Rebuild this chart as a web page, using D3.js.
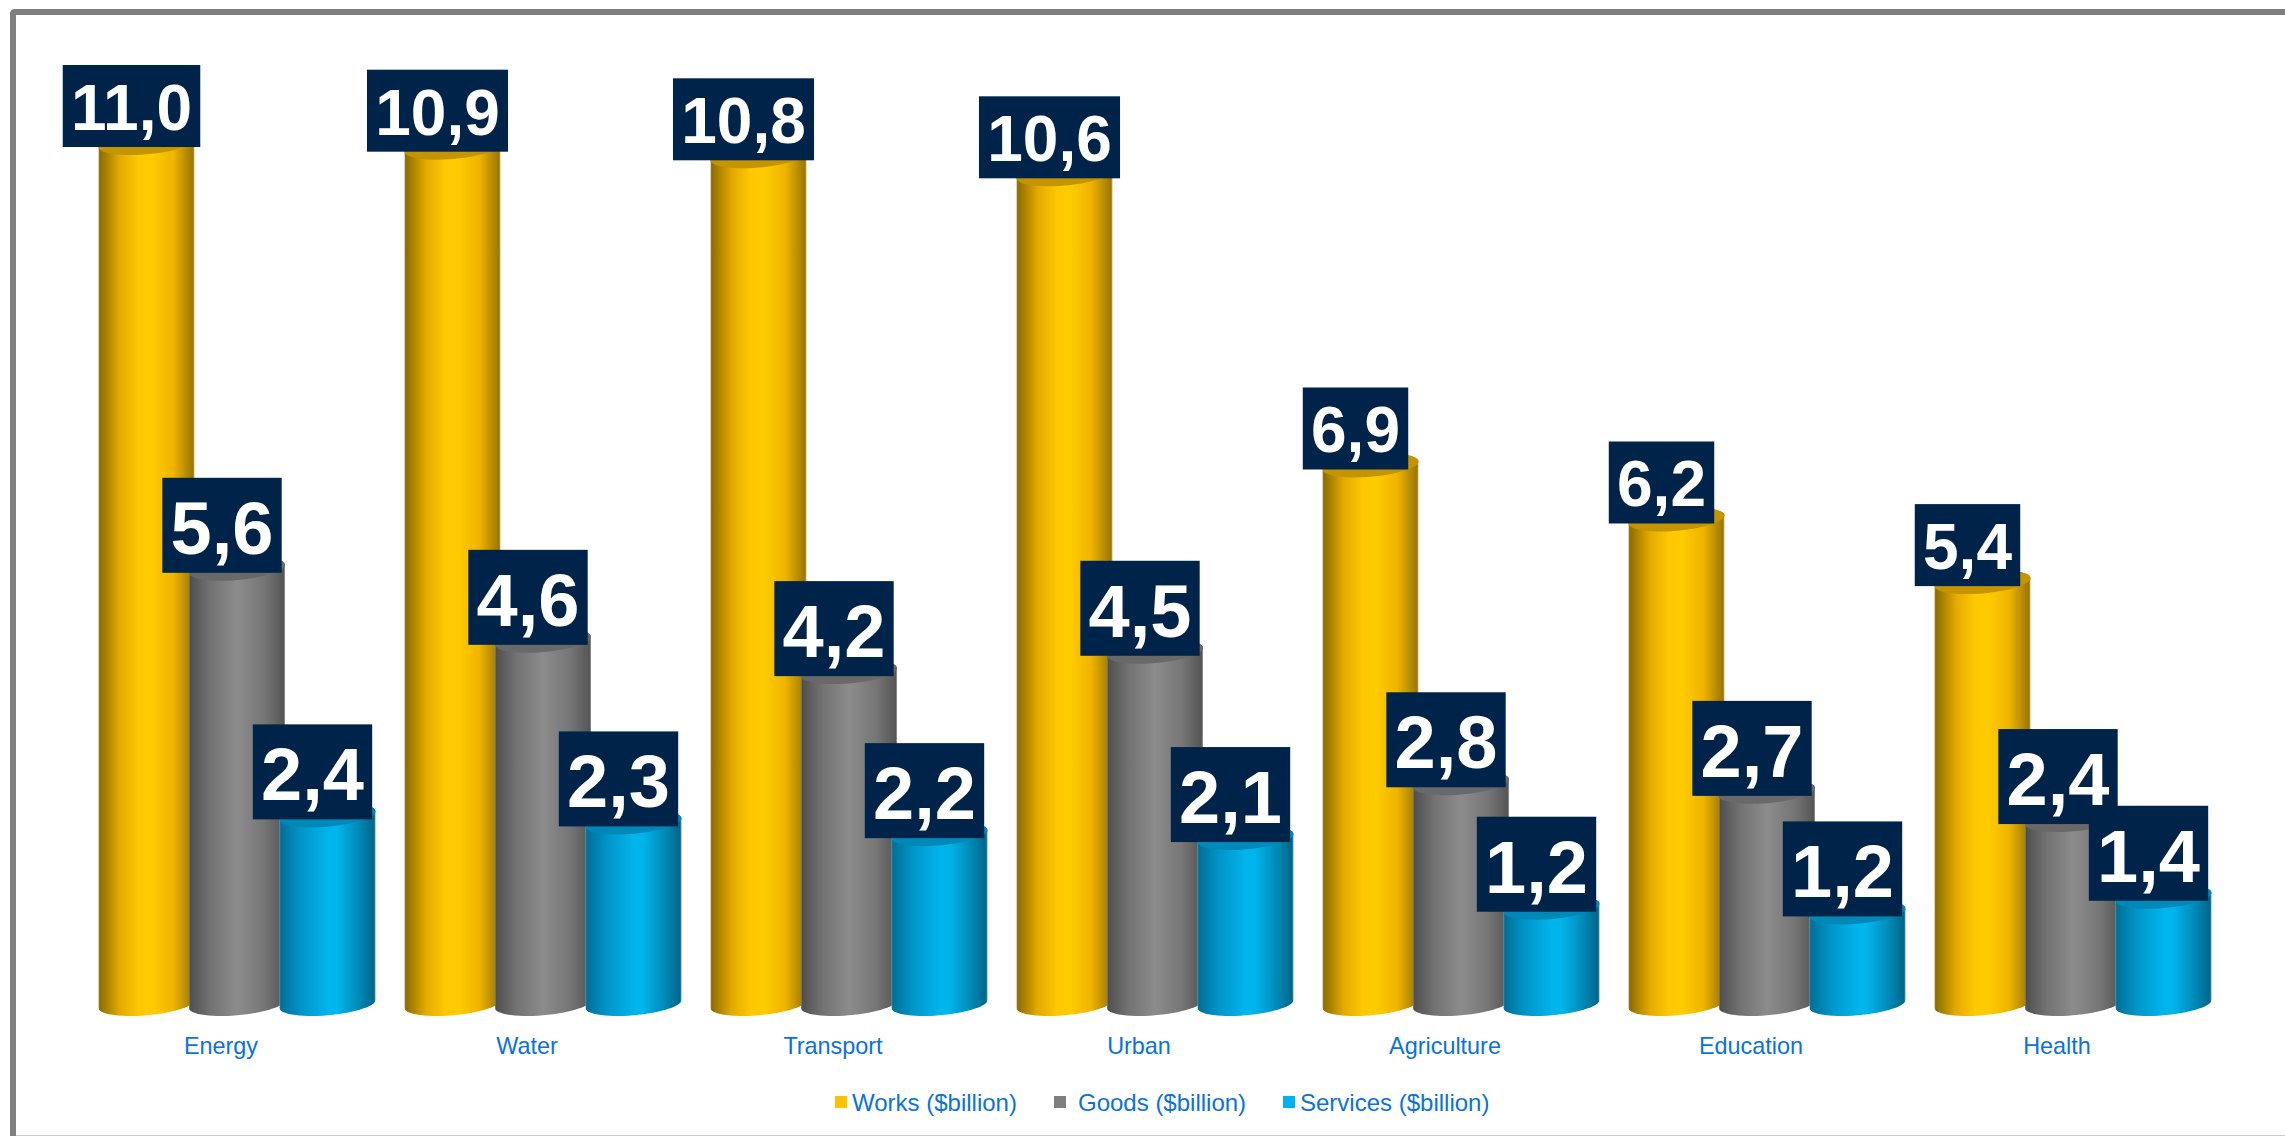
<!DOCTYPE html>
<html>
<head>
<meta charset="utf-8">
<script src="https://cdn.jsdelivr.net/npm/d3@7"></script>
<style>
html,body{margin:0;padding:0;background:#fff;overflow:hidden}
text{font-family:"Liberation Sans",Arial,sans-serif}
</style>
</head>
<body>
<svg id="chart" width="2285" height="1136" style="display:block"></svg>
<script>
const categories = ["Energy","Water","Transport","Urban","Agriculture","Education","Health"];
const seriesNames = ["Works ($billion)","Goods ($billion)","Services ($billion)"];
const works    = [11.00,10.94,10.83,10.60,6.88,6.19,5.39];
const goods    = [5.56,4.64,4.24,4.50,2.82,2.71,2.35];
const services = [2.41,2.32,2.17,2.12,1.23,1.17,1.37];
const seriesValues = [works,goods,services];

const swatch = ["#ffc000","#7f7f7f","#00b0f0"];
const capFill = ["#c49500","#696969","#0089b8"];
const ramps = [
  [[0,"#b9a878"],[0.012,"#8c6d00"],[0.22,"#e3aa00"],[0.42,"#ffc800"],[0.55,"#ffcc00"],[0.78,"#efb400"],[0.985,"#9a7700"],[1,"#c9bb92"]],
  [[0,"#8a8a8a"],[0.012,"#505050"],[0.22,"#727272"],[0.5,"#8c8c8c"],[0.78,"#767676"],[0.985,"#565656"],[1,"#a0a0a0"]],
  [[0,"#5aa7c2"],[0.012,"#006f98"],[0.22,"#0095c8"],[0.5,"#00b4ec"],[0.6,"#00b4ec"],[0.8,"#008fbe"],[0.985,"#00668a"],[1,"#66a8c0"]]
];

const svg = d3.select("#chart");
const defs = svg.append("defs");
ramps.forEach((r,i)=>{
  const g = defs.append("linearGradient").attr("id","side"+i);
  g.selectAll("stop").data(r).join("stop").attr("offset",d=>d[0]).attr("stop-color",d=>d[1]);
});

// frame
svg.append("line").attr("x1",16).attr("x2",2285).attr("y1",1135.5).attr("y2",1135.5).attr("stroke","#cccccc").attr("stroke-width",1);
svg.append("path").attr("d","M13,1140 V14 Q13,12 15,12 H2290").attr("fill","none").attr("stroke","#7f7f7f").attr("stroke-width",6);

const x = d3.scaleBand().domain(categories).range([69.5,69.5+7*306]);
const inner = d3.scalePoint().domain([0,1,2]).range([-91,90]);
const y = d3.scaleLinear().domain([0,11]).range([1008,147]);

const depth = 15, rx = 48, ry = 11.3, skew = 4, lift = 4;
const angles = d3.range(0,361,6).map(d=>d*Math.PI/180);
const px = (cx,t)=>cx+rx*Math.cos(t);
const py = (cy,t)=>cy+ry*Math.sin(t)-skew*Math.cos(t);
const line = d3.line();
function sidePath(cx,top,bot){
  const lower = angles.filter(t=>t<=Math.PI+1e-6);
  const upper = angles.filter(t=>t>=Math.PI-1e-6);
  const pts = lower.map(t=>[px(cx,t),py(bot,t)]).concat(upper.map(t=>[px(cx,t),py(top,t)]));
  return line(pts)+"Z";
}
function capPath(cx,top){ return line(angles.map(t=>[px(cx,t),py(top,t)]))+"Z"; }

const marks = [];
seriesValues.forEach((vals,s)=>vals.forEach((v,c)=>marks.push({s,c,v})));
const center = d=>x(categories[d.c])+x.bandwidth()/2+inner(d.s);

const bars = svg.append("g").selectAll("g").data(marks).join("g");
bars.append("path").attr("d",d=>sidePath(center(d)+depth,y(d.v)-lift,y(0)-lift)).attr("fill",d=>`url(#side${d.s})`);
bars.append("path").attr("d",d=>capPath(center(d)+depth,y(d.v)-lift)).attr("fill",d=>capFill[d.s]);

// category labels
svg.append("g").selectAll("text").data(categories).join("text")
  .attr("x",d=>x(d)+x.bandwidth()/2-1.5).attr("y",1054).attr("text-anchor","middle")
  .attr("font-size",23.4).attr("fill","#0a72dd").text(d=>d);

// data labels
const fmt = v=>v.toFixed(1).replace(".",",");
const labels = svg.append("g").selectAll("g").data(marks).join("g");
labels.each(function(d){
  const g = d3.select(this), t = fmt(d.v), big = d.s>0;
  const fs = big?74:64, h = big?95:82, base = big?19:17;
  const txt = g.append("text").attr("x",center(d)).attr("y",y(d.v)-base)
    .attr("text-anchor","middle").attr("font-size",fs).attr("font-weight","bold").attr("fill","#fff").text(t);
  const w = txt.node().getComputedTextLength() + 16.5;
  g.insert("rect","text").attr("x",center(d)-w/2).attr("y",y(d.v)-h).attr("width",w).attr("height",h).attr("fill","#002349");
});

// legend
const swatchX = [835,1054,1283], textX = [852,1078,1300];
const lg = svg.append("g").selectAll("g").data(seriesNames).join("g");
lg.append("rect").attr("x",(d,i)=>swatchX[i]).attr("y",1096).attr("width",12).attr("height",12).attr("fill",(d,i)=>swatch[i]);
lg.append("text").attr("x",(d,i)=>textX[i]).attr("y",1111).attr("font-size",24).attr("fill","#0a72dd").text(d=>d);
</script>
</body>
</html>
